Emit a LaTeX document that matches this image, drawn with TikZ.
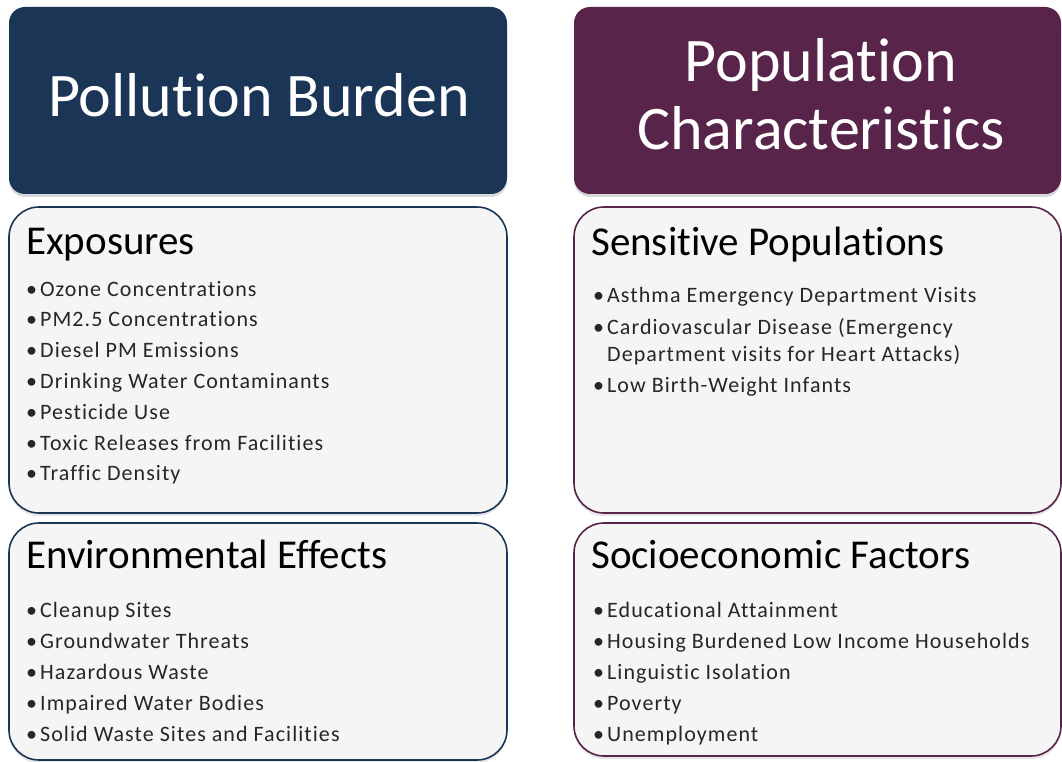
\documentclass[tikz,border=0pt]{standalone}
\usepackage{fontspec}
\setmainfont{Carlito}[Ligatures=NoCommon]
\newfontfamily\itemfont{Carlito}[Ligatures=NoCommon, LetterSpace=4.8]
\usetikzlibrary{positioning, shadows}
\definecolor{burdenblue}{RGB}{27,53,86}
\definecolor{popplum}{RGB}{88,36,74}
\definecolor{panelgray}{RGB}{245,245,245}
\definecolor{itemgray}{RGB}{38,38,38}
\newcommand{\bul}{\makebox[14pt][l]{\textbullet}}

\begin{document}
\begin{tikzpicture}[x=1pt, y=-1pt,
    head/.style={rounded corners=16pt, inner sep=0pt, minimum height=187pt,
        drop shadow={opacity=0.3, shadow xshift=0pt, shadow yshift=-3pt}},
    panel/.style={rounded corners=30pt, fill=panelgray, line width=1.6pt, inner sep=0pt,
        drop shadow={opacity=0.2, shadow xshift=0pt, shadow yshift=-3pt}},
    headtext/.style={text=white, font=\fontsize{62}{62}\selectfont, anchor=base, inner sep=0pt},
    paneltitle/.style={font=\fontsize{41}{41}\selectfont, anchor=base west, inner sep=0pt},
    item/.style={font=\itemfont\fontsize{22}{22}\selectfont, text=itemgray, anchor=base west, inner sep=0pt}]
    \useasboundingbox (0,0) rectangle (1062,762);

    % Headers
    \node[head, fill=burdenblue, minimum width=498pt] (PB) at (258,100.5) {};
    \node[head, fill=popplum, minimum width=487pt] (PC) at (817.5,100.5) {};
    \node[headtext] (PBt) at (259,117) {Pollution Burden};
    \node[headtext] (PCt1) at (821,82) {Population};
    \node[headtext] (PCt2) at (821,150) {Characteristics};

    % Panels
    \node[panel, draw=burdenblue, minimum width=498pt, minimum height=306pt] (EX) at (258,360) {};
    \node[panel, draw=burdenblue, minimum width=498pt, minimum height=237pt] (EE) at (258,641.5) {};
    \node[panel, draw=popplum, minimum width=487pt, minimum height=306pt] (SP) at (817.5,360) {};
    \node[panel, draw=popplum, minimum width=487pt, minimum height=233pt] (SE) at (817.5,639.5) {};

    % Titles
    \node[paneltitle] (EXt) at (26,254) {Exposures};
    \node[paneltitle] (EEt) at (26,568) {Environmental Effects};
    \node[paneltitle] (SPt) at (591,255) {Sensitive Populations};
    \node[paneltitle] (SEt) at (591,568) {Socioeconomic Factors};

    % Items
    \foreach \t [count=\i] in {Ozone Concentrations, PM2.5 Concentrations, Diesel PM Emissions,
        Drinking Water Contaminants, Pesticide Use, Toxic Releases from Facilities, Traffic Density}
        \node[item] (EX\i) at (26,{296+30.8*(\i-1)}) {\bul\t};

    \foreach \t [count=\i] in {Cleanup Sites, Groundwater Threats, Hazardous Waste,
        Impaired Water Bodies, Solid Waste Sites and Facilities}
        \node[item] (EE\i) at (26,{617.5+30.9*(\i-1)}) {\bul\t};

    \node[item] (SP1) at (593,302.5) {\bul Asthma Emergency Department Visits};
    \node[item] (SP2) at (593,334.5) {\bul Cardiovascular Disease (Emergency};
    \node[item] (SP2b) at (607,361.5) {Department visits for Heart Attacks)};
    \node[item] (SP3) at (593,392) {\bul Low Birth-Weight Infants};

    \foreach \t [count=\i] in {Educational Attainment, Housing Burdened Low Income Households,
        Linguistic Isolation, Poverty, Unemployment}
        \node[item] (SE\i) at (593,{617.5+30.9*(\i-1)}) {\bul\t};
\end{tikzpicture}
\end{document}
